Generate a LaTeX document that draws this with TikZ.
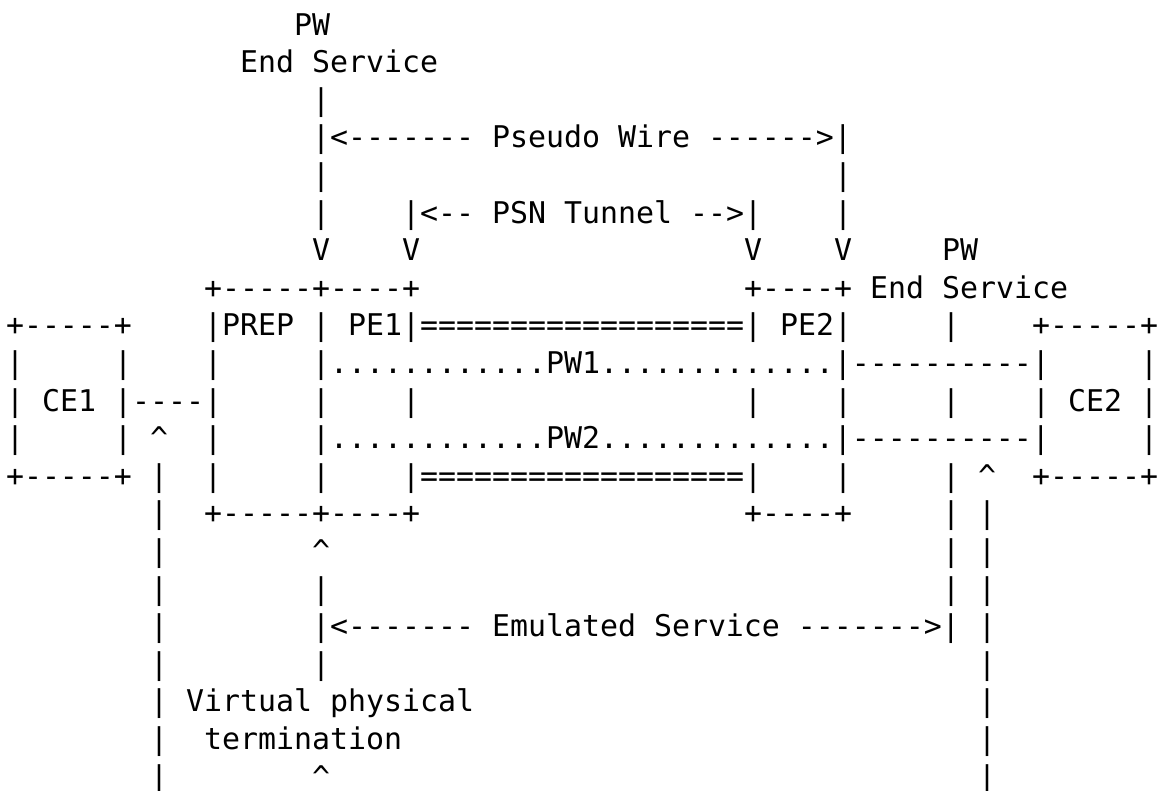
\documentclass[tikz,border=0pt]{standalone}
\usepackage{fontspec}
\setmonofont{DejaVu Sans Mono}
% one character cell: 18pt wide, rows 37.6pt apart
\newcommand\caret{\char"5E\relax}
\newcommand\asc[3]{\node[cell] (r#2c#1) at ({6+18*#1},{-(35+37.6*#2)}) {#3};}
\tikzset{
  cell/.style={anchor=base west, inner sep=0pt, outer sep=0pt,
    font=\ttfamily\fontsize{29.9}{37.6}\selectfont, text=black}
}
\begin{document}
\begin{tikzpicture}[x=1pt,y=1pt]
\fill[white] (0,0) rectangle (1164,-790);
\useasboundingbox (0,0) rectangle (1164,-790);
% upper end service and the pseudo wire / tunnel spans
\asc{16}{0}{PW}
\asc{13}{1}{End Service}
\asc{17}{2}{|}
\asc{17}{3}{|<------- Pseudo Wire ------>|}
\asc{17}{4}{|}\asc{46}{4}{|}
\asc{17}{5}{|}\asc{22}{5}{|<-- PSN Tunnel -->|}\asc{46}{5}{|}
\asc{17}{6}{V}\asc{22}{6}{V}\asc{41}{6}{V}\asc{46}{6}{V}\asc{52}{6}{PW}
% provider edges and customer edges
\asc{11}{7}{+-----+----+}\asc{41}{7}{+----+}\asc{48}{7}{End Service}
\asc{0}{8}{+-----+}\asc{11}{8}{|PREP}\asc{17}{8}{|}\asc{19}{8}{PE1|==================|}\asc{43}{8}{PE2|}\asc{52}{8}{|}\asc{57}{8}{+-----+}
\asc{0}{9}{|}\asc{6}{9}{|}\asc{11}{9}{|}\asc{17}{9}{|............PW1.............|----------|}\asc{63}{9}{|}
\asc{0}{10}{|}\asc{2}{10}{CE1}\asc{6}{10}{|----|}\asc{17}{10}{|}\asc{22}{10}{|}\asc{41}{10}{|}\asc{46}{10}{|}\asc{52}{10}{|}\asc{57}{10}{|}\asc{59}{10}{CE2}\asc{63}{10}{|}
\asc{0}{11}{|}\asc{6}{11}{|}\asc{8}{11}{\caret}\asc{11}{11}{|}\asc{17}{11}{|............PW2.............|----------|}\asc{63}{11}{|}
\asc{0}{12}{+-----+}\asc{8}{12}{|}\asc{11}{12}{|}\asc{17}{12}{|}\asc{22}{12}{|==================|}\asc{46}{12}{|}\asc{52}{12}{|}\asc{54}{12}{\caret}\asc{57}{12}{+-----+}
\asc{8}{13}{|}\asc{11}{13}{+-----+----+}\asc{41}{13}{+----+}\asc{52}{13}{|}\asc{54}{13}{|}
% emulated service span and the termination label
\asc{8}{14}{|}\asc{17}{14}{\caret}\asc{52}{14}{|}\asc{54}{14}{|}
\asc{8}{15}{|}\asc{17}{15}{|}\asc{52}{15}{|}\asc{54}{15}{|}
\asc{8}{16}{|}\asc{17}{16}{|<------- Emulated Service ------->|}\asc{54}{16}{|}
\asc{8}{17}{|}\asc{17}{17}{|}\asc{54}{17}{|}
\asc{8}{18}{|}\asc{10}{18}{Virtual physical}\asc{54}{18}{|}
\asc{8}{19}{|}\asc{11}{19}{termination}\asc{54}{19}{|}
\asc{8}{20}{|}\asc{17}{20}{\caret}\asc{54}{20}{|}
\end{tikzpicture}
\end{document}
